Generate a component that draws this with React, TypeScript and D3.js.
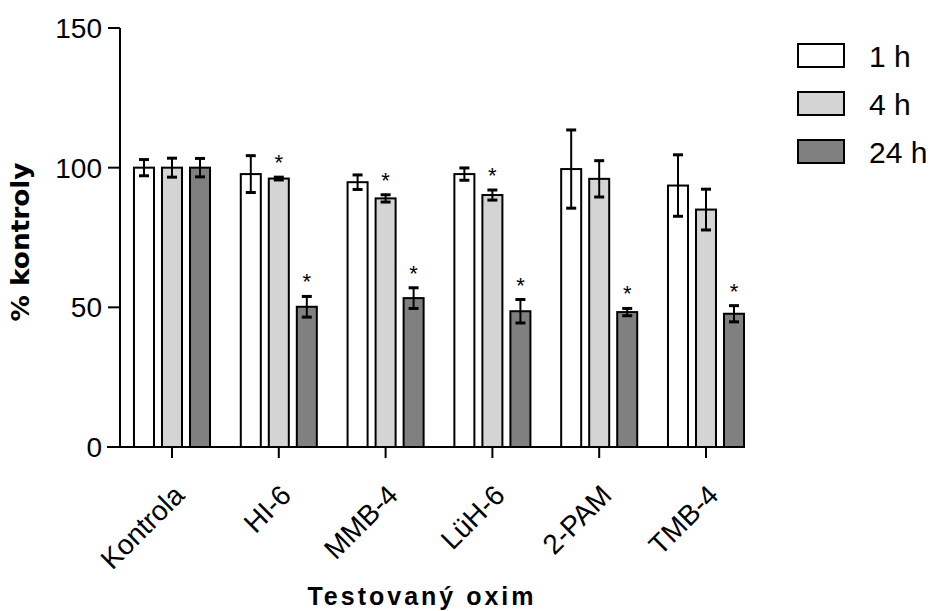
import React, { useEffect, useRef } from "react";
import * as d3 from "d3";

// values (mean and SD, % of control)
const categories = ["Kontrola", "HI-6", "MMB-4", "LüH-6", "2-PAM", "TMB-4"];
const series = ["1 h", "4 h", "24 h"];

const mean1h = [100, 97.7, 94.8, 97.7, 99.5, 93.6];
const sd1h = [2.9, 6.6, 2.6, 2.2, 14, 11];
const mean4h = [100, 96.1, 89.0, 90.2, 96.0, 85.0];
const sd4h = [3.4, 0.5, 1.3, 1.8, 6.5, 7.3];
const mean24h = [100, 50.2, 53.3, 48.6, 48.3, 47.7];
const sd24h = [3.3, 3.7, 3.7, 4.2, 1.3, 2.9];

// significance marks (true = "*")
const star1h = [false, false, false, false, false, false];
const star4h = [false, true, true, true, false, false];
const star24h = [false, true, true, true, true, true];

const yTicks = [0, 50, 100, 150];

const W = 938;
const H = 611;
const colors = ["#ffffff", "#d4d4d4", "#808080"];
const FONT = "'Liberation Sans', Arial, sans-serif";

export default function App() {
  const ref = useRef<SVGSVGElement>(null);

  useEffect(() => {
    document.body.style.margin = "0";
    const svg = d3.select(ref.current);
    svg.selectAll("*").remove();

    const means = [mean1h, mean4h, mean24h];
    const sds = [sd1h, sd4h, sd24h];
    const stars = [star1h, star4h, star24h];

    const y = d3.scaleLinear().domain([0, 150]).range([447, 28]);
    const x0 = d3
      .scaleBand()
      .domain(categories)
      .range([118.6, 759.4])
      .paddingInner(0.288)
      .paddingOuter(0.144);
    const x1 = d3
      .scaleBand()
      .domain(series)
      .range([0, x0.bandwidth()])
      .paddingInner(8 / 28);

    // bars + error bars
    series.forEach((s, si) => {
      const g = svg.append("g");
      categories.forEach((c, ci) => {
        const v = means[si][ci];
        const sd = sds[si][ci];
        const bx = (x0(c) as number) + (x1(s) as number);
        const bw = x1.bandwidth();
        g.append("rect")
          .attr("x", bx)
          .attr("y", y(v))
          .attr("width", bw)
          .attr("height", y(0) - y(v))
          .attr("fill", colors[si])
          .attr("stroke", "#000")
          .attr("stroke-width", 2);
        const cx = bx + bw / 2;
        g.append("line")
          .attr("x1", cx)
          .attr("x2", cx)
          .attr("y1", y(v + sd))
          .attr("y2", y(v - sd))
          .attr("stroke", "#000")
          .attr("stroke-width", 2);
        [v + sd, v - sd].forEach((e) => {
          g.append("line")
            .attr("x1", cx - 5)
            .attr("x2", cx + 5)
            .attr("y1", y(e))
            .attr("y2", y(e))
            .attr("stroke", "#000")
            .attr("stroke-width", 3);
        });
        if (stars[si][ci]) {
          g.append("text")
            .attr("x", cx)
            .attr("y", y(v + sd) - 7)
            .attr("text-anchor", "middle")
            .attr("font-family", FONT)
            .attr("font-size", 22)
            .text("*");
        }
      });
    });

    // y axis
    const yAxis = svg.append("g");
    yAxis
      .append("line")
      .attr("x1", 120)
      .attr("x2", 120)
      .attr("y1", y(150))
      .attr("y2", y(0))
      .attr("stroke", "#000")
      .attr("stroke-width", 2);
    yTicks.forEach((t) => {
      yAxis
        .append("line")
        .attr("x1", 108)
        .attr("x2", 120)
        .attr("y1", y(t))
        .attr("y2", y(t))
        .attr("stroke", "#000")
        .attr("stroke-width", 2);
      yAxis
        .append("text")
        .attr("x", 102)
        .attr("y", y(t))
        .attr("dy", "0.36em")
        .attr("text-anchor", "end")
        .attr("font-family", FONT)
        .attr("font-size", 28)
        .text(t);
    });

    // x axis
    const xAxis = svg.append("g");
    xAxis
      .append("line")
      .attr("x1", 107)
      .attr("x2", 742)
      .attr("y1", y(0))
      .attr("y2", y(0))
      .attr("stroke", "#000")
      .attr("stroke-width", 2);
    categories.forEach((c) => {
      const cx = (x0(c) as number) + x0.bandwidth() / 2;
      xAxis
        .append("line")
        .attr("x1", cx)
        .attr("x2", cx)
        .attr("y1", y(0))
        .attr("y2", y(0) + 11)
        .attr("stroke", "#000")
        .attr("stroke-width", 2);
      xAxis
        .append("text")
        .attr("transform", `translate(${cx + 14},${y(0) + 50}) rotate(-45)`)
        .attr("text-anchor", "end")
        .attr("font-family", FONT)
        .attr("font-size", 28)
        .text(c);
    });

    // axis titles
    svg
      .append("text")
      .attr("transform", `translate(29,242) rotate(-90)`)
      .attr("text-anchor", "middle")
      .attr("font-family", "'DejaVu Sans', Verdana, sans-serif")
      .attr("font-weight", "bold")
      .attr("font-size", 25)
      .attr("textLength", 159)
      .attr("lengthAdjust", "spacingAndGlyphs")
      .text("% kontroly");
    svg
      .append("text")
      .attr("x", 422)
      .attr("y", 605)
      .attr("text-anchor", "middle")
      .attr("font-family", FONT)
      .attr("font-weight", "bold")
      .attr("font-size", 25)
      .attr("letter-spacing", 3)
      .text("Testovaný oxim");

    // legend
    const legend = svg.append("g");
    series.forEach((s, si) => {
      const ly = 44 + si * 48;
      legend
        .append("rect")
        .attr("x", 798)
        .attr("y", ly)
        .attr("width", 46)
        .attr("height", 23)
        .attr("fill", colors[si])
        .attr("stroke", "#000")
        .attr("stroke-width", 2);
      legend
        .append("text")
        .attr("x", 869)
        .attr("y", ly + 12)
        .attr("dy", "0.36em")
        .attr("font-family", FONT)
        .attr("font-size", 30)
        .text(s);
    });
  }, []);

  return (
    <svg
      ref={ref}
      width={W}
      height={H}
      style={{ display: "block", background: "#fff" }}
    />
  );
}
